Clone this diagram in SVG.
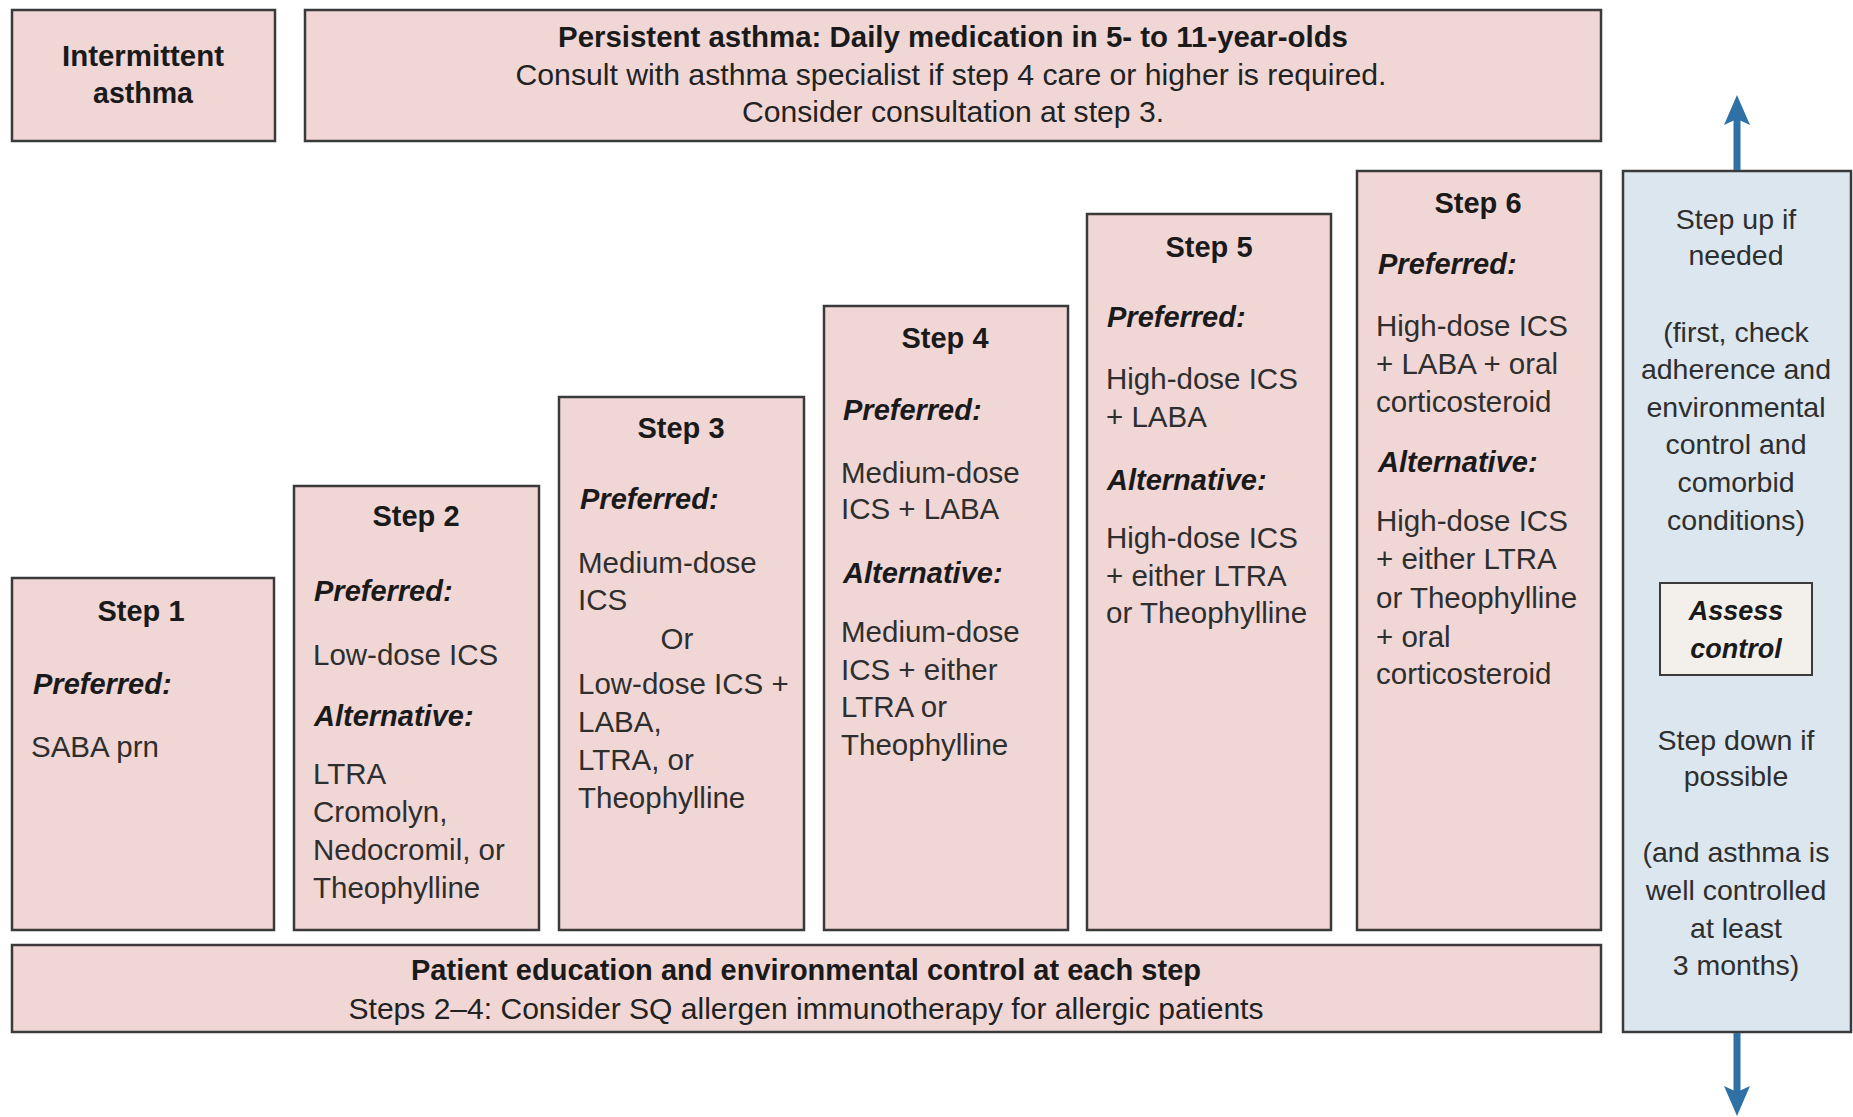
<svg xmlns="http://www.w3.org/2000/svg" width="1853" height="1117" viewBox="0 0 1853 1117">
  <style>
    .box { fill: #f0d7d6; stroke: #3a3a3a; stroke-width: 2.5; }
    .bluebox { fill: #dbe6ef; stroke: #3a3a3a; stroke-width: 2.5; }
    .assess { fill: #f3efea; stroke: #3a3a3a; stroke-width: 2; }
    text { font-family: "Liberation Sans", Arial, Helvetica, sans-serif; fill: #262626; }
    .h { font-weight: bold; font-size: 29px; fill: #1a1a1a; }
    .lbl { font-weight: bold; font-style: italic; font-size: 29px; fill: #1a1a1a; }
    .t { font-size: 29.5px; fill: #2e2e2e; }
    .b { font-size: 28.5px; fill: #2e2e2e; }
    .ban { font-size: 30px; fill: #222; }
    .banb { font-size: 30px; font-weight: bold; fill: #1a1a1a; }
    .c { text-anchor: middle; }
    .arrow { stroke: #3071a5; stroke-width: 7; fill: none; }
  </style>
  <defs>
    <marker id="head" viewBox="0 0 30 26" refX="6" refY="13" markerWidth="30" markerHeight="26" markerUnits="userSpaceOnUse" orient="auto">
      <path d="M0,0 L30,13 L0,26 L6,13 z" fill="#3071a5"/>
    </marker>
  </defs>

  <rect width="1853" height="1117" fill="#ffffff"/>

  <!-- top banners -->
  <g id="intermittent">
    <rect class="box" x="12" y="10" width="263" height="131"/>
    <text class="banb c" x="143" y="66" textLength="162" lengthAdjust="spacingAndGlyphs">Intermittent</text>
    <text class="banb c" x="143" y="103" textLength="100" lengthAdjust="spacingAndGlyphs">asthma</text>
  </g>
  <g id="persistent">
    <rect class="box" x="305" y="10" width="1296" height="131"/>
    <text class="banb c" x="953" y="47" textLength="790" lengthAdjust="spacingAndGlyphs">Persistent asthma: Daily medication in 5- to 11-year-olds</text>
    <text class="ban c" x="951" y="85" textLength="871" lengthAdjust="spacingAndGlyphs">Consult with asthma specialist if step 4 care or higher is required.</text>
    <text class="ban c" x="953" y="122" textLength="422" lengthAdjust="spacingAndGlyphs">Consider consultation at step 3.</text>
  </g>

  <!-- treatment steps -->
  <g id="step1">
    <rect class="box" x="12" y="578" width="262" height="352"/>
    <text class="h c" x="141" y="621">Step 1</text>
    <text class="lbl" x="33" y="694">Preferred:</text>
    <text class="t" x="31" y="757">SABA prn</text>
  </g>
  <g id="step2">
    <rect class="box" x="294" y="486" width="245" height="444"/>
    <text class="h c" x="416" y="526">Step 2</text>
    <text class="lbl" x="314" y="601">Preferred:</text>
    <text class="t" x="313" y="665">Low-dose ICS</text>
    <text class="lbl" x="314" y="726">Alternative:</text>
    <text class="t" x="313" y="784">LTRA</text>
    <text class="t" x="313" y="822">Cromolyn,</text>
    <text class="t" x="313" y="860">Nedocromil, or</text>
    <text class="t" x="313" y="898">Theophylline</text>
  </g>
  <g id="step3">
    <rect class="box" x="559" y="397" width="245" height="533"/>
    <text class="h c" x="681" y="438">Step 3</text>
    <text class="lbl" x="580" y="509">Preferred:</text>
    <text class="t" x="578" y="573">Medium-dose</text>
    <text class="t" x="578" y="610">ICS</text>
    <text class="t c" x="677" y="649">Or</text>
    <text class="t" x="578" y="694">Low-dose ICS +</text>
    <text class="t" x="578" y="732">LABA,</text>
    <text class="t" x="578" y="770">LTRA, or</text>
    <text class="t" x="578" y="808">Theophylline</text>
  </g>
  <g id="step4">
    <rect class="box" x="824" y="306" width="244" height="624"/>
    <text class="h c" x="945" y="348">Step 4</text>
    <text class="lbl" x="843" y="420">Preferred:</text>
    <text class="t" x="841" y="483">Medium-dose</text>
    <text class="t" x="841" y="519">ICS + LABA</text>
    <text class="lbl" x="843" y="583">Alternative:</text>
    <text class="t" x="841" y="642">Medium-dose</text>
    <text class="t" x="841" y="680">ICS + either</text>
    <text class="t" x="841" y="717">LTRA or</text>
    <text class="t" x="841" y="755">Theophylline</text>
  </g>
  <g id="step5">
    <rect class="box" x="1087" y="214" width="244" height="716"/>
    <text class="h c" x="1209" y="257">Step 5</text>
    <text class="lbl" x="1107" y="327">Preferred:</text>
    <text class="t" x="1106" y="389">High-dose ICS</text>
    <text class="t" x="1106" y="427">+ LABA</text>
    <text class="lbl" x="1107" y="490">Alternative:</text>
    <text class="t" x="1106" y="548">High-dose ICS</text>
    <text class="t" x="1106" y="586">+ either LTRA</text>
    <text class="t" x="1106" y="623">or Theophylline</text>
  </g>
  <g id="step6">
    <rect class="box" x="1357" y="171" width="244" height="759"/>
    <text class="h c" x="1478" y="213">Step 6</text>
    <text class="lbl" x="1378" y="274">Preferred:</text>
    <text class="t" x="1376" y="336">High-dose ICS</text>
    <text class="t" x="1376" y="374">+ LABA + oral</text>
    <text class="t" x="1376" y="412">corticosteroid</text>
    <text class="lbl" x="1378" y="472">Alternative:</text>
    <text class="t" x="1376" y="531">High-dose ICS</text>
    <text class="t" x="1376" y="569">+ either LTRA</text>
    <text class="t" x="1376" y="608">or Theophylline</text>
    <text class="t" x="1376" y="647">+ oral</text>
    <text class="t" x="1376" y="684">corticosteroid</text>
  </g>

  <!-- bottom banner -->
  <g id="education">
    <rect class="box" x="12" y="945" width="1589" height="87"/>
    <text class="banb c" x="806" y="980" textLength="790" lengthAdjust="spacingAndGlyphs">Patient education and environmental control at each step</text>
    <text class="ban c" x="806" y="1019" textLength="915" lengthAdjust="spacingAndGlyphs">Steps 2–4: Consider SQ allergen immunotherapy for allergic patients</text>
  </g>

  <!-- step up / step down column -->
  <g id="adjust">
    <rect class="bluebox" x="1623" y="171" width="228" height="861"/>
    <text class="b c" x="1736" y="229">Step up if</text>
    <text class="b c" x="1736" y="265">needed</text>
    <text class="b c" x="1736" y="342">(first, check</text>
    <text class="b c" x="1736" y="379">adherence and</text>
    <text class="b c" x="1736" y="417">environmental</text>
    <text class="b c" x="1736" y="454">control and</text>
    <text class="b c" x="1736" y="492">comorbid</text>
    <text class="b c" x="1736" y="530">conditions)</text>
    <text class="b c" x="1736" y="750">Step down if</text>
    <text class="b c" x="1736" y="786">possible</text>
    <text class="b c" x="1736" y="862">(and asthma is</text>
    <text class="b c" x="1736" y="900">well controlled</text>
    <text class="b c" x="1736" y="938">at least</text>
    <text class="b c" x="1736" y="975">3 months)</text>
  </g>
  <g id="assess-control">
    <rect class="assess" x="1660" y="583" width="152" height="92"/>
    <text class="lbl c" x="1736" y="620" style="font-size:27px">Assess</text>
    <text class="lbl c" x="1736" y="658" style="font-size:27px">control</text>
  </g>

  <!-- connectors -->
  <g id="connectors">
    <line class="arrow" x1="1737" y1="170" x2="1737" y2="119" marker-end="url(#head)"/>
    <line class="arrow" x1="1737" y1="1033" x2="1737" y2="1092" marker-end="url(#head)"/>
  </g>
</svg>
